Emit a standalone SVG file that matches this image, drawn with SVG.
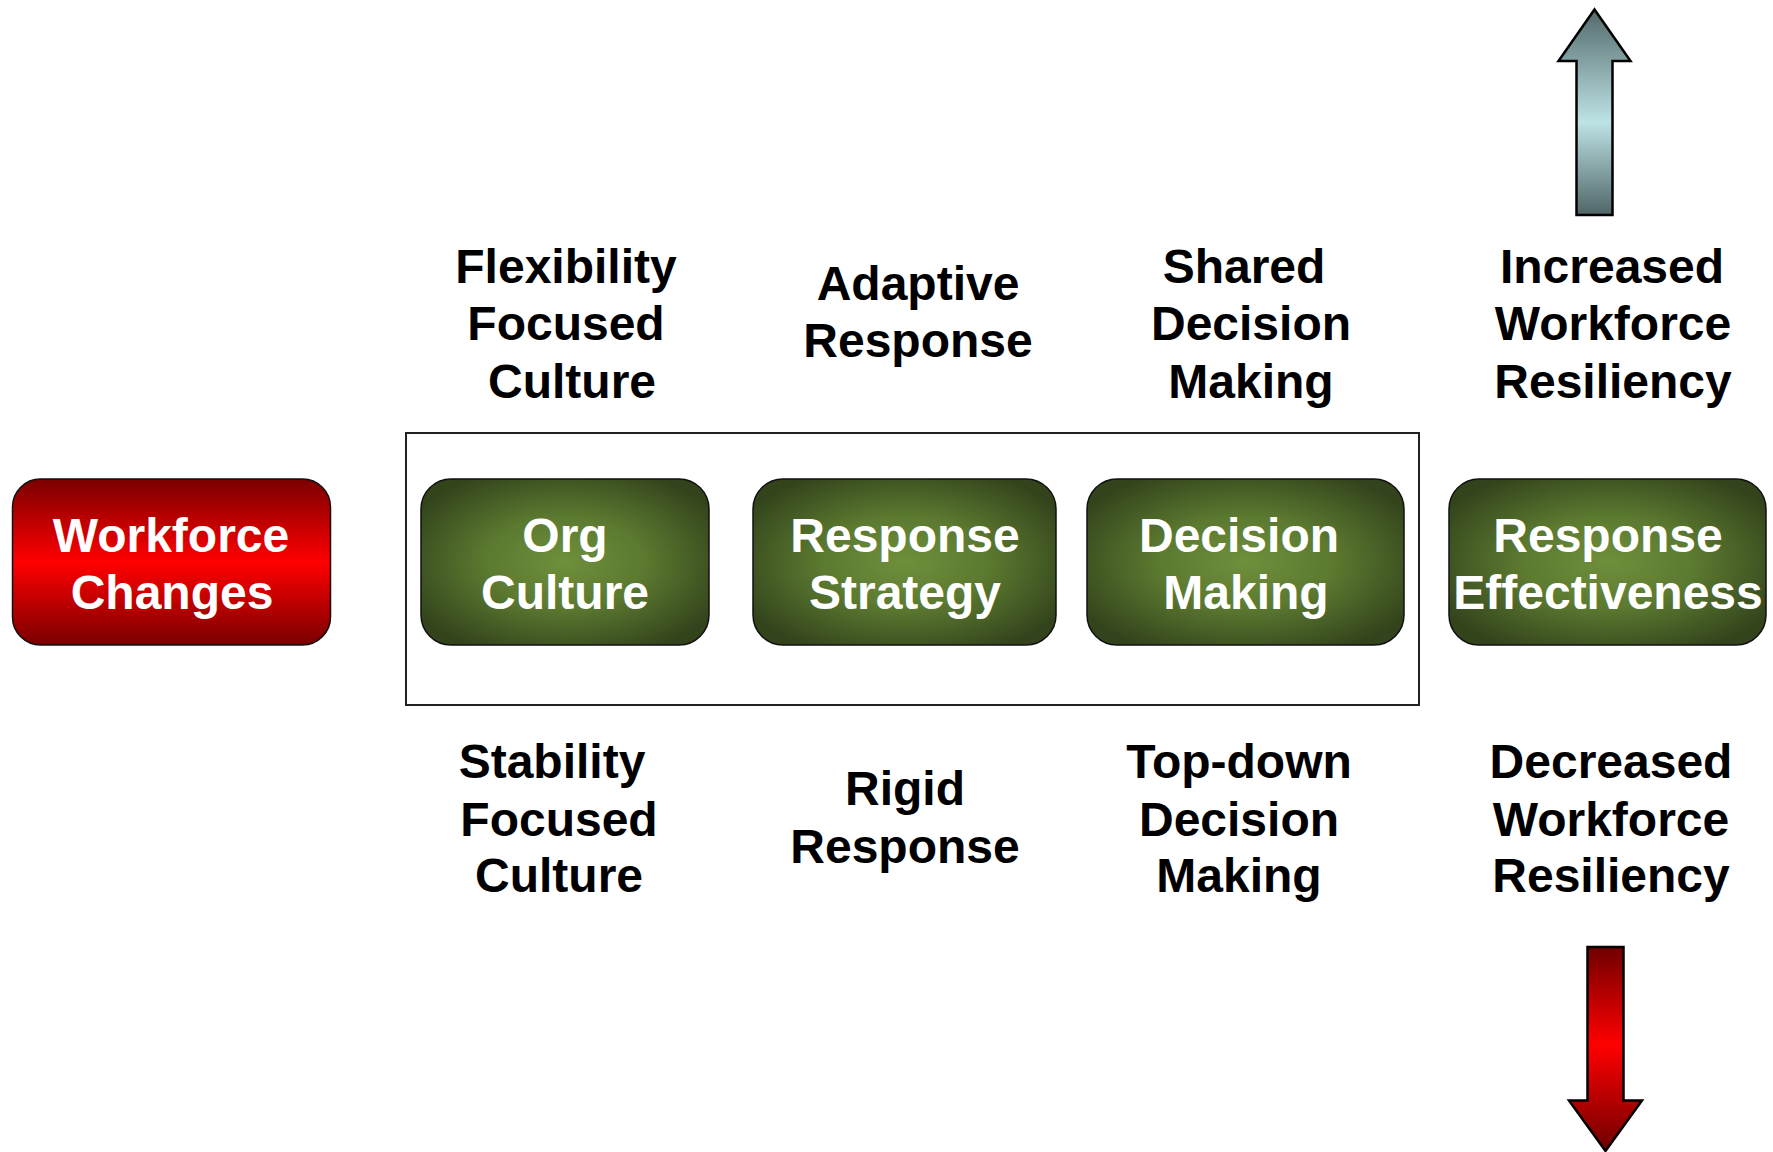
<svg xmlns="http://www.w3.org/2000/svg" width="1773" height="1152" viewBox="0 0 1773 1152">
  <defs>
    <linearGradient id="redFill" x1="0" y1="0" x2="0" y2="1">
      <stop offset="0" stop-color="#7a0000"/>
      <stop offset="0.5" stop-color="#ff0000"/>
      <stop offset="1" stop-color="#7a0000"/>
    </linearGradient>
    <radialGradient id="greenFill" cx="0.5" cy="0.5" r="0.6">
      <stop offset="0" stop-color="#6f8f3c"/>
      <stop offset="0.45" stop-color="#5c7a30"/>
      <stop offset="1" stop-color="#33441c"/>
    </radialGradient>
    <linearGradient id="upFill" gradientUnits="userSpaceOnUse" x1="0" y1="9" x2="0" y2="215">
      <stop offset="0" stop-color="#53696a"/>
      <stop offset="0.55" stop-color="#bde3e5"/>
      <stop offset="1" stop-color="#4f6566"/>
    </linearGradient>
    <linearGradient id="downFill" gradientUnits="userSpaceOnUse" x1="0" y1="946" x2="0" y2="1152">
      <stop offset="0" stop-color="#6e0000"/>
      <stop offset="0.48" stop-color="#ff0000"/>
      <stop offset="1" stop-color="#6e0000"/>
    </linearGradient>
    <style>
      .box { stroke: #111; stroke-width: 1.5; }
      .red { fill: url(#redFill); }
      .green { fill: url(#greenFill); }
      .boxText { font-family: "Liberation Sans", Arial, sans-serif; font-weight: bold; font-size: 48px; fill: #ffffff; text-anchor: middle; }
      .label { font-family: "Liberation Sans", Arial, sans-serif; font-weight: bold; font-size: 48px; fill: #000000; text-anchor: middle; }
      .frame { fill: none; stroke: #222; stroke-width: 2; }
      .arrow { stroke: #000; stroke-width: 2.5; stroke-linejoin: miter; }
    </style>
  </defs>

  <rect width="1773" height="1152" fill="#ffffff"/>

  <!-- frame around the three inner factors -->
  <rect class="frame" x="406" y="433" width="1013" height="272"/>

  <g id="workforce-changes">
    <rect class="box red" x="12.5" y="479" width="318" height="166" rx="28"/>
    <text class="boxText" x="171" y="552">Workforce</text>
    <text class="boxText" x="172" y="609">Changes</text>
  </g>

  <g id="org-culture">
    <rect class="box green" x="421" y="479" width="288" height="166" rx="30"/>
    <text class="boxText" x="565" y="552">Org</text>
    <text class="boxText" x="565" y="609">Culture</text>
  </g>

  <g id="response-strategy">
    <rect class="box green" x="753" y="479" width="303" height="166" rx="30"/>
    <text class="boxText" x="905" y="552">Response</text>
    <text class="boxText" x="905" y="609">Strategy</text>
  </g>

  <g id="decision-making">
    <rect class="box green" x="1087" y="479" width="317" height="166" rx="30"/>
    <text class="boxText" x="1239" y="552">Decision</text>
    <text class="boxText" x="1246" y="609">Making</text>
  </g>

  <g id="response-effectiveness">
    <rect class="box green" x="1449" y="479" width="317" height="166" rx="30"/>
    <text class="boxText" x="1608" y="552">Response</text>
    <text class="boxText" x="1608" y="609">Effectiveness</text>
  </g>

  <!-- upper pole labels -->
  <g id="label-flexibility">
    <text class="label" x="566" y="283">Flexibility</text>
    <text class="label" x="566" y="340">Focused</text>
    <text class="label" x="572" y="398">Culture</text>
  </g>
  <g id="label-adaptive">
    <text class="label" x="918" y="300">Adaptive</text>
    <text class="label" x="918" y="357">Response</text>
  </g>
  <g id="label-shared">
    <text class="label" x="1244" y="283">Shared</text>
    <text class="label" x="1251" y="340">Decision</text>
    <text class="label" x="1251" y="398">Making</text>
  </g>
  <g id="label-increased">
    <text class="label" x="1612" y="283">Increased</text>
    <text class="label" x="1613" y="340">Workforce</text>
    <text class="label" x="1613" y="398">Resiliency</text>
  </g>

  <!-- lower pole labels -->
  <g id="label-stability">
    <text class="label" x="552" y="778">Stability</text>
    <text class="label" x="559" y="836">Focused</text>
    <text class="label" x="559" y="892">Culture</text>
  </g>
  <g id="label-rigid">
    <text class="label" x="905" y="805">Rigid</text>
    <text class="label" x="905" y="863">Response</text>
  </g>
  <g id="label-topdown">
    <text class="label" x="1239" y="778">Top-down</text>
    <text class="label" x="1239" y="836">Decision</text>
    <text class="label" x="1239" y="892">Making</text>
  </g>
  <g id="label-decreased">
    <text class="label" x="1611" y="778">Decreased</text>
    <text class="label" x="1611" y="836">Workforce</text>
    <text class="label" x="1611" y="892">Resiliency</text>
  </g>

  <!-- direction arrows -->
  <g id="connectors">
    <path id="arrow-up" class="arrow" fill="url(#upFill)" d="M1594.5 9.5 L1630.5 61 L1612.5 61 L1612.5 215 L1576.5 215 L1576.5 61 L1558.5 61 Z"/>
    <path id="arrow-down" class="arrow" fill="url(#downFill)" d="M1587.5 947 L1623.5 947 L1623.5 1100.5 L1642 1100.5 L1605.5 1151 L1569 1100.5 L1587.5 1100.5 Z"/>
  </g>
</svg>
